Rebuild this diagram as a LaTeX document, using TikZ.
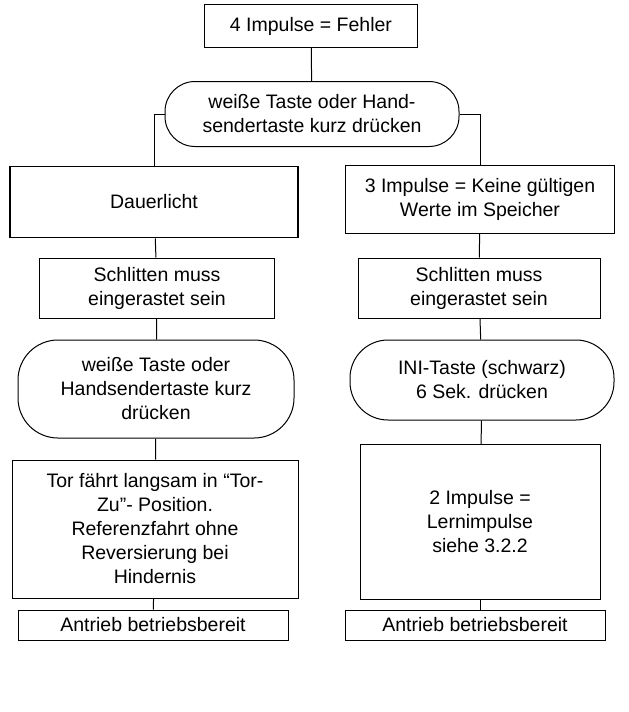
\documentclass[tikz,border=0pt]{standalone}
\usepackage{fontspec}
\setmainfont{Liberation Sans}
\begin{document}
\begin{tikzpicture}[x=1pt,y=-1pt,
 every node/.style={font=\fontsize{19.5}{24}\selectfont,align=center,inner sep=2pt},
 bx/.style={draw,line width=1pt,rectangle},
 ln/.style={line width=1pt}]
\useasboundingbox (0,0) rectangle (629,712);
\tikzset{pill/.style={draw,line width=1pt,rectangle,rounded corners=30pt}}
\node[bx,minimum width=213,minimum height=43] (top) at (311,26) {4 Impulse = Fehler};
\node[pill,minimum width=294,minimum height=65] (p0) at (312,114) {weiße Taste oder Hand-\\sendertaste kurz drücken};
\node[bx,line width=1.6pt,minimum width=288,minimum height=71] (l1) at (154,202) {\raisebox{-6pt}{Dauerlicht}};
\node[bx,minimum width=269,minimum height=68] (r1) at (480,199) {3 Impulse = Keine gültigen\\Werte im Speicher};
\node[bx,minimum width=235,minimum height=60] (l2) at (157,288) {Schlitten muss\\eingerastet sein};
\node[bx,minimum width=242,minimum height=60] (r2) at (479,288) {Schlitten muss\\eingerastet sein};
\node[pill,rounded corners=40pt,minimum width=276,minimum height=98] (l3) at (156,389) {weiße Taste oder\\Handsendertaste kurz\\drücken};
\node[pill,rounded corners=38pt,minimum width=264,minimum height=80] (r3) at (482,380) {INI-Taste (schwarz)\\6 Sek. drücken};
\node[bx,minimum width=286,minimum height=138] (l4) at (155,529) {Tor fährt langsam in “Tor-\\Zu”- Position.\\Referenzfahrt ohne\\Reversierung bei\\Hindernis};
\node[bx,minimum width=240,minimum height=155] (r4) at (480,522) {2 Impulse =\\Lernimpulse\\siehe 3.2.2};
\node[bx,minimum width=270,minimum height=30] (l5) at (153,625) {Antrieb betriebsbereit};
\node[bx,minimum width=260,minimum height=30] (r5) at (475,625) {Antrieb betriebsbereit};
\draw[ln] (top) -- (p0);
\draw[ln] (p0.west) -| (l1.north);
\draw[ln] (p0.east) -| (r1.north);
\draw[ln] (l1) -- (l2); \draw[ln] (l2) -- (l3); \draw[ln] (l3) -- (l4); \draw[ln] (l4) -- (l5);
\draw[ln] (r1) -- (r2); \draw[ln] (r2) -- (r3); \draw[ln] (r3) -- (r4); \draw[ln] (r4.south) -- (r4.south|-r5.north);
\end{tikzpicture}
\end{document}
